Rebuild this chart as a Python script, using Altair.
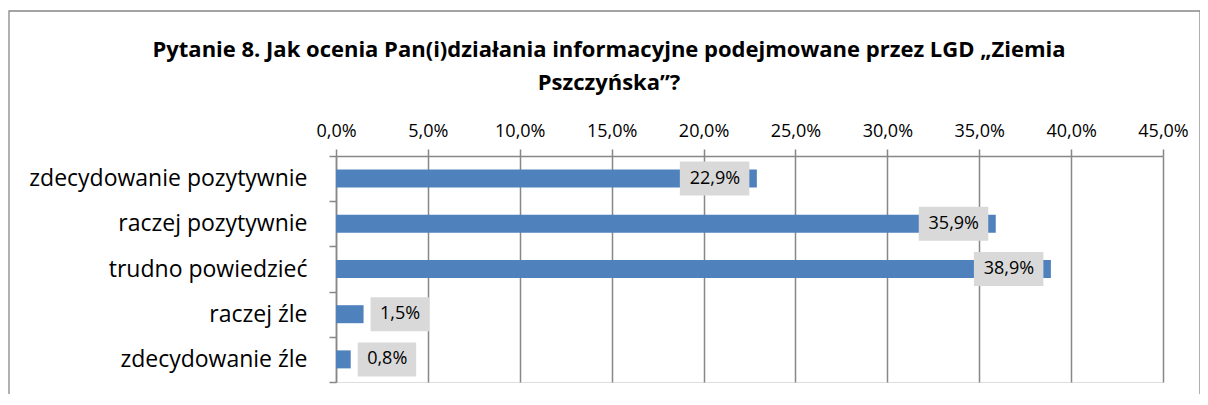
import altair as alt
import pandas as pd

categories = ["zdecydowanie pozytywnie", "raczej pozytywnie", "trudno powiedzieć",
              "raczej źle", "zdecydowanie źle"]
values = [22.9, 35.9, 38.9, 1.5, 0.8]
x_ticks = [0, 5, 10, 15, 20, 25, 30, 35, 40, 45]
title_lines = ["Pytanie 8. Jak ocenia Pan(i)działania informacyjne podejmowane przez LGD \u201eZiemia",
               "Pszczy\u0144ska\u201d?"]

df = pd.DataFrame({"kategoria": categories, "wartosc": values})

FONT = "Open Sans"
GRID = "#878787"
BAR = "#4F81BD"
BOX = "#D9D9D9"
W, H = 827, 226

label_expr = "replace(format(datum.value, '.1f'), '.', ',') + '%'"

x_enc = alt.X("wartosc:Q", title=None,
              scale=alt.Scale(domain=[0, 45], nice=False, zero=True),
              axis=alt.Axis(orient="top", values=x_ticks, labelExpr=label_expr,
                            grid=True, gridColor=GRID, gridWidth=1.5,
                            domainColor=GRID, domainWidth=1.5,
                            tickColor=GRID, tickWidth=1.5, tickSize=7,
                            labelFont=FONT, labelFontSize=18, labelColor="black",
                            labelBaseline="alphabetic", labelPadding=13,
                            labelFlush=False, labelOverlap=False))
y_enc = alt.Y("kategoria:N", title=None, sort=categories,
              scale=alt.Scale(paddingInner=0, paddingOuter=0),
              axis=alt.Axis(orient="left", tickBand="extent", tickSize=7,
                            tickColor=GRID, tickWidth=1.5,
                            domainColor=GRID, domainWidth=1.5,
                            labelFont=FONT, labelFontSize=23, labelColor="black",
                            labelPadding=22, labelLimit=500))

base = alt.Chart(df).transform_calculate(
    label="replace(format(datum.wartosc, '.1f'), '.', ',') + '%'"
)

bars = base.mark_bar(size=18, color=BAR).encode(x=x_enc, y=y_enc)

inside = base.transform_filter("datum.wartosc >= 10")
outside = base.transform_filter("datum.wartosc < 10")

box_in = inside.mark_bar(size=34, color=BOX, xOffset=-77, x2Offset=-7.5).encode(
    x=x_enc, x2="wartosc:Q", y=y_enc)
txt_in = inside.mark_text(dx=-42, font=FONT, fontSize=18, color="black",
                          align="center", baseline="middle").encode(
    x=x_enc, y=y_enc, text="label:N")
box_out = outside.mark_bar(size=34, color=BOX, xOffset=7, x2Offset=65.5).encode(
    x=x_enc, x2="wartosc:Q", y=y_enc)
txt_out = outside.mark_text(dx=36.5, font=FONT, fontSize=18, color="black",
                            align="center", baseline="middle").encode(
    x=x_enc, y=y_enc, text="label:N")

one = pd.DataFrame({"d": [0]})
title = alt.Chart(one).mark_text(text=title_lines, font=FONT, fontSize=22,
                                 fontWeight="bold", color="black", align="center",
                                 baseline="alphabetic", lineHeight=33).encode(
    x=alt.value(273), y=alt.value(-99))
border = alt.Chart(one).mark_rect(fill=None, stroke=GRID, strokeWidth=1.3).encode(
    x=alt.value(-327), x2=alt.value(864), y=alt.value(-145), y2=alt.value(400))

chart = alt.layer(border, bars, box_in, txt_in, box_out, txt_out, title).properties(
    width=W, height=H,
    autosize=alt.AutoSizeParams(type="none"),
    padding={"left": 328, "top": 148, "right": 37, "bottom": 12},
).configure_view(stroke=None).configure(background="white")

chart.save("out.html", embed_options={"renderer": "svg", "actions": False})
